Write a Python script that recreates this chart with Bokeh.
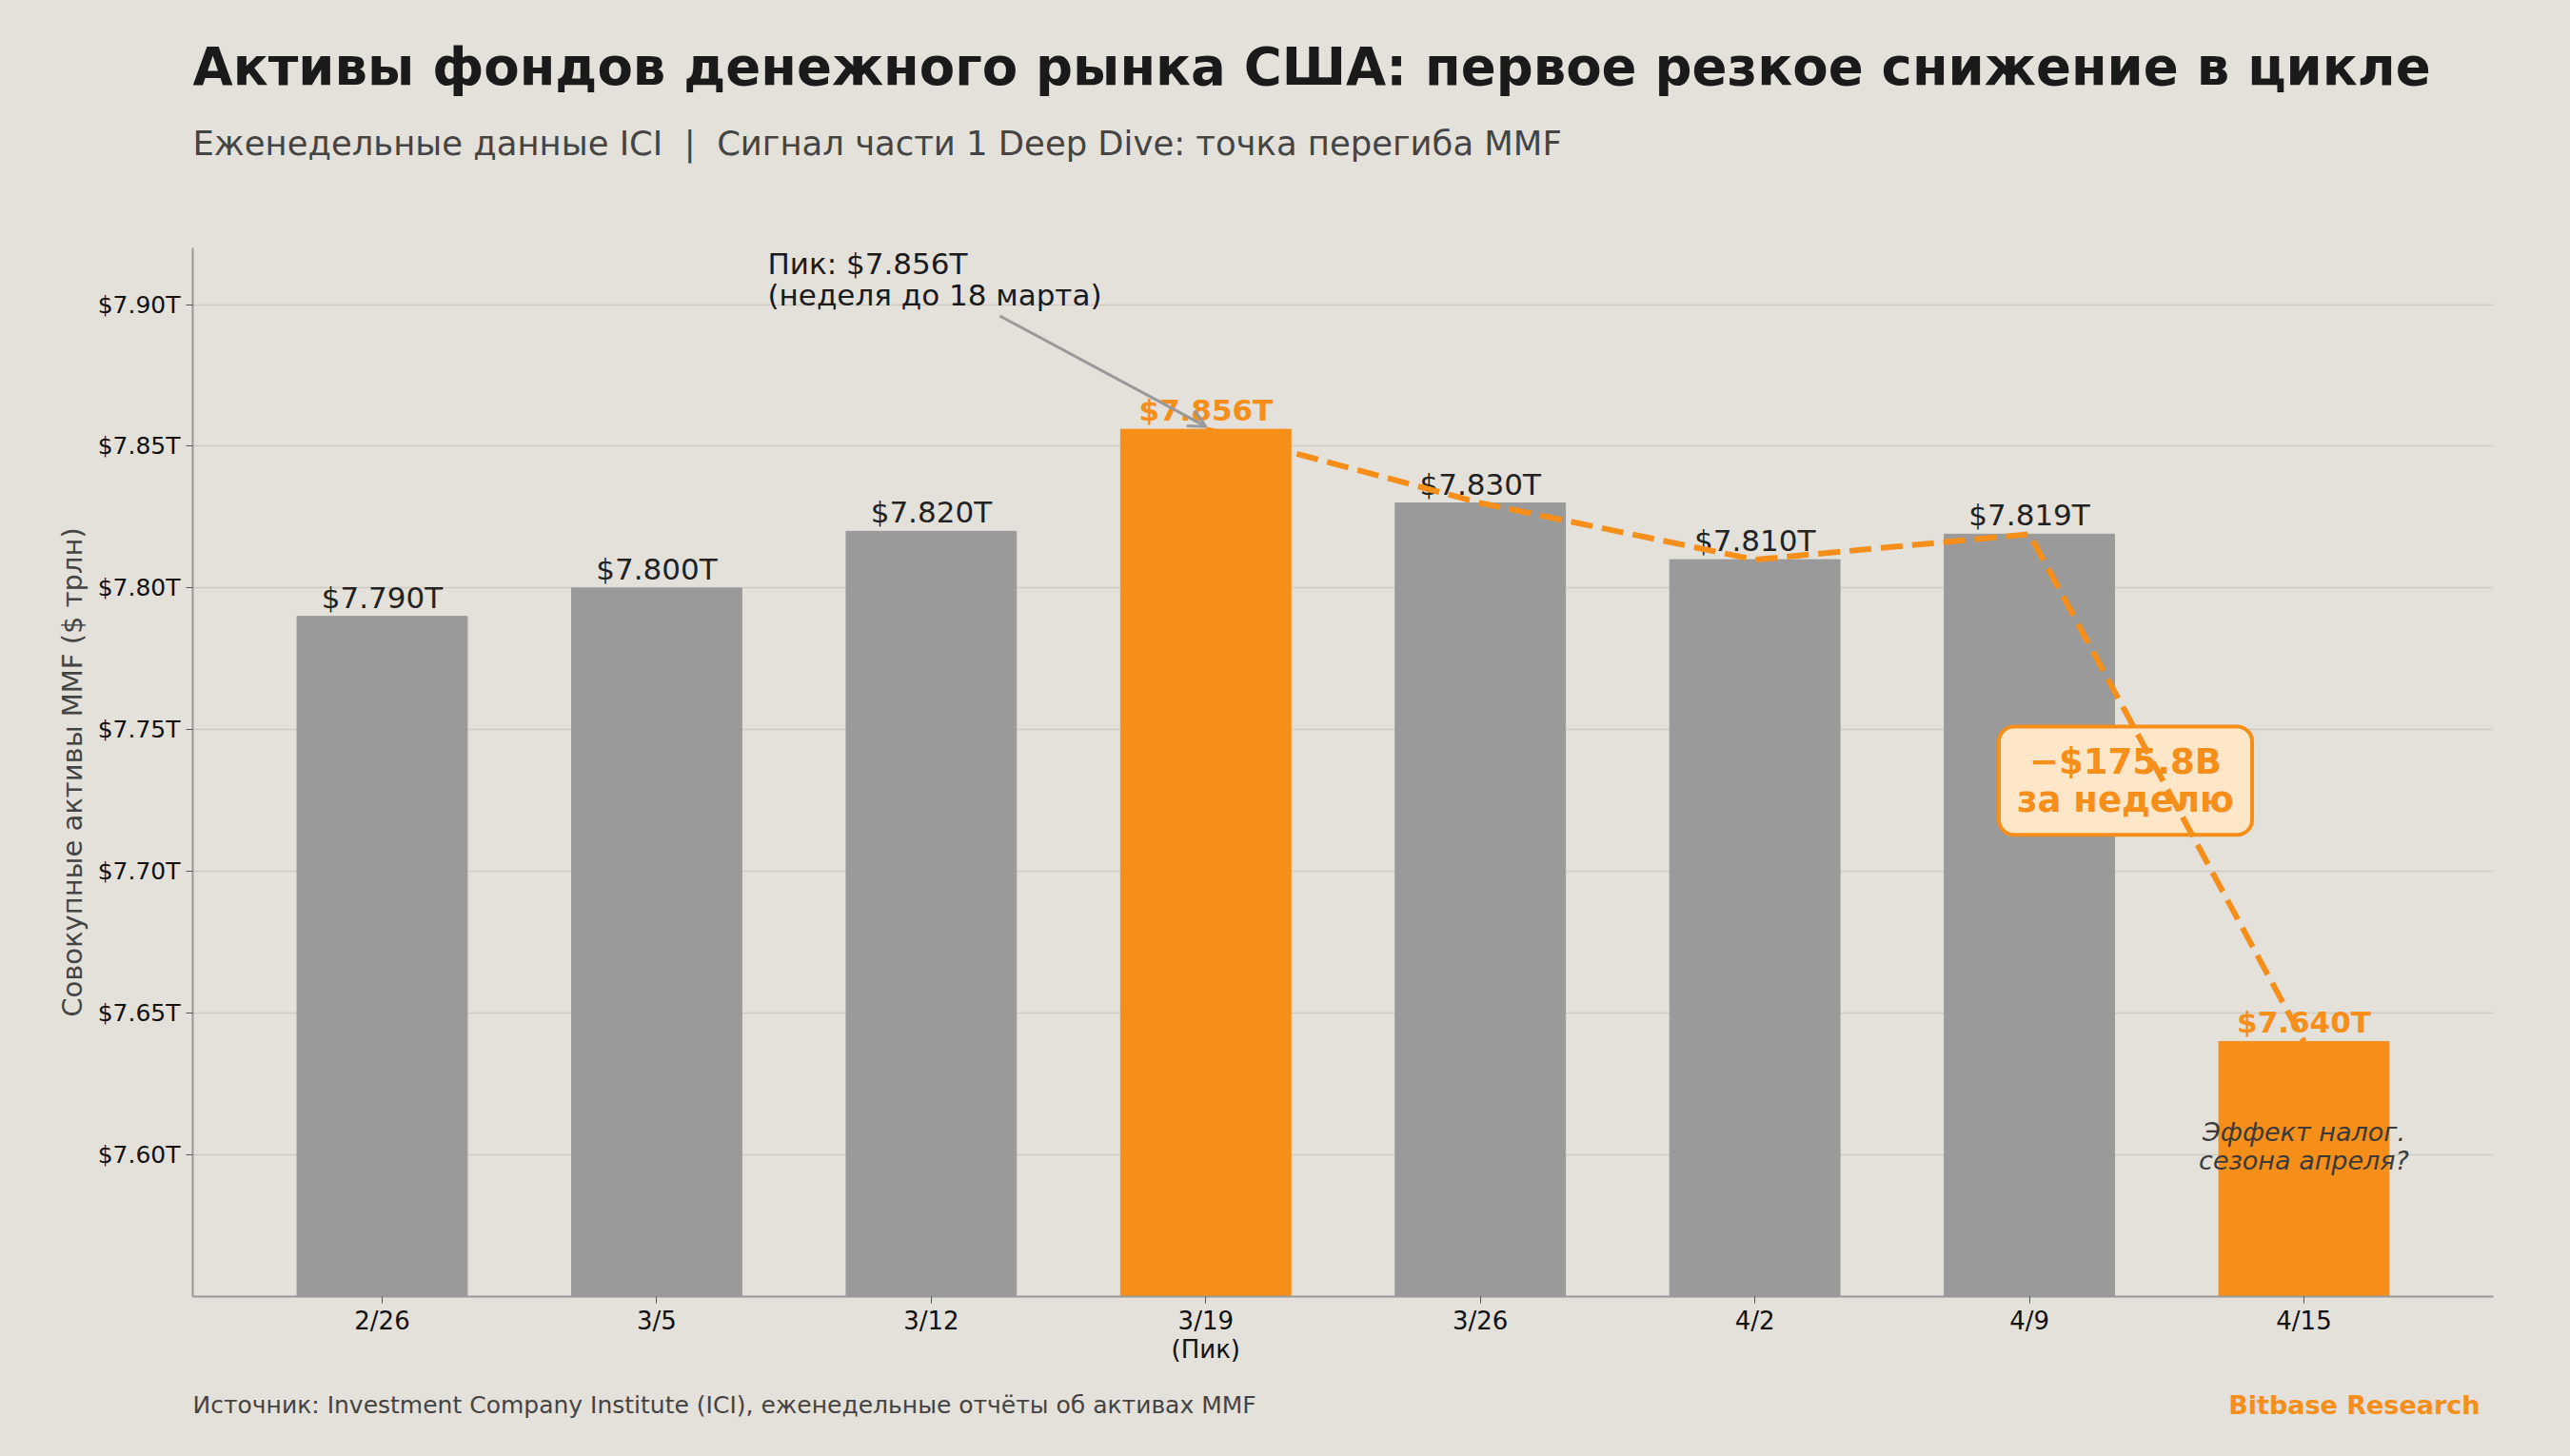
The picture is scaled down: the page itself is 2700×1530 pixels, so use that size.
from bokeh.plotting import figure
from bokeh.layouts import column
from bokeh.models import (Range1d, FixedTicker, PrintfTickFormatter, Arrow,
                          OpenHead, ColumnDataSource)
from bokeh.core.properties import value
from bokeh.embed import file_html
from bokeh.resources import INLINE

# ---- data ----
weeks = ["2/26", "3/5", "3/12", "3/19", "3/26", "4/2", "4/9", "4/15"]
assets = [7.790, 7.800, 7.820, 7.856, 7.830, 7.810, 7.819, 7.640]
highlight = [False, False, False, True, False, False, False, True]
y_ticks = [7.60, 7.65, 7.70, 7.75, 7.80, 7.85, 7.90]
trend_idx = [3, 4, 5, 6, 7]

NB = "\u00a0"
title = "Активы фондов денежного рынка США: первое резкое снижение в цикле"
subtitle = "Еженедельные данные ICI" + NB * 2 + "|" + NB * 2 + "Сигнал части 1 Deep Dive: точка перегиба MMF"
ylabel = "Совокупные активы MMF ($ трлн)"
source_txt = "Источник: Investment Company Institute (ICI), еженедельные отчёты об активах MMF"
brand = "Bitbase Research"
peak_note = "Пик: $7.856T\n(неделя до 18 марта)"
drop_note = "\u2212$175.8B\nза неделю"
tax_note = "Эффект налог.\nсезона апреля?"

BG = "#E4E0DA"
ORANGE = "#F68E1A"
GREY = "#9A9A9A"
FONT = "DejaVu Sans"

W = 2700
HEAD_H, MAIN_H, FOOT_H = 200, 1250, 80
L, R, T, B = 202, 81, 60, 88
X0, X1 = -0.69, 7.69
Y0, Y1 = 7.55, 7.92


def text_fig(h):
    # frame is aligned with the main chart's frame (L .. W-R), so x data == page pixels
    f = figure(width=W, height=h, output_backend="svg", toolbar_location=None,
               x_range=Range1d(L, W - R), y_range=Range1d(h, 0),
               min_border_left=L, min_border_right=R,
               min_border_top=0, min_border_bottom=0,
               background_fill_color=None, border_fill_color=BG)
    f.axis.visible = False
    f.grid.visible = False
    f.outline_line_color = None
    return f


# ---- header ----
head = text_fig(HEAD_H)
head.text(x=[202], y=[69], text=[title], text_font=value(FONT), text_font_size="54.5px",
          text_font_style="bold", text_color="#1A1A1A", text_baseline="middle")
head.text(x=[202], y=[150], text=[subtitle], text_font=value(FONT), text_font_size="35.4px",
          text_color="#444444", text_baseline="middle")

# ---- main chart ----
p = figure(width=W, height=MAIN_H, output_backend="svg", toolbar_location=None,
           x_range=Range1d(X0, X1), y_range=Range1d(Y0, Y1),
           min_border_left=L, min_border_right=R, min_border_top=T, min_border_bottom=B,
           background_fill_color=None, border_fill_color=BG)
p.outline_line_color = None

xs = list(range(len(weeks)))
colors = [ORANGE if h else GREY for h in highlight]
src = ColumnDataSource(dict(x=xs, top=assets, color=colors))
p.vbar(x="x", top="top", bottom=Y0, width=0.62, color="color", source=src)

lab_txt = ["${:.3f}T".format(v) for v in assets]
lab_col = [ORANGE if h else "#222222" for h in highlight]
lab_sty = ["bold" if h else "normal" for h in highlight]
lsrc = ColumnDataSource(dict(x=xs, y=assets, t=lab_txt, c=lab_col, s=lab_sty))
p.text(x="x", y="y", text="t", text_color="c", text_font_style="s",
       text_font=value(FONT), text_font_size="31px", text_align="center",
       text_baseline="bottom", y_offset=-2, source=lsrc)

p.text(x=[6.35], y=[7.732], text=[drop_note], text_font=value(FONT),
       text_font_size="37px", text_font_style="bold", text_color=ORANGE,
       text_align="center", text_baseline="middle", text_line_height=0.95,
       background_fill_color="#FDE7C8", border_line_color=ORANGE,
       border_line_width=4, border_radius=16, padding=(19, 15))

p.text(x=[7], y=[7.603], text=[tax_note], text_font=value(FONT),
       text_font_size="27px", text_font_style="italic", text_color="#3A3A3A",
       text_align="center", text_baseline="middle", text_line_height=0.96)

p.line(x=[xs[i] for i in trend_idx], y=[assets[i] for i in trend_idx],
       line_color=ORANGE, line_width=6, line_dash="23 10")

p.text(x=[1.404], y=[7.909], text=[peak_note], text_font=value(FONT),
       text_font_size="31px", text_color="#1A1A1A", text_align="left",
       text_baseline="middle", text_line_height=0.92)
p.add_layout(Arrow(x_start=2.25, y_start=7.896, x_end=3.0, y_end=7.857,
                   line_color="#999999", line_width=3,
                   end=OpenHead(size=18, line_color="#999999", line_width=3)))

p.xaxis.ticker = FixedTicker(ticks=xs)
ov = {i: w for i, w in enumerate(weeks)}
ov[3] = weeks[3] + "\n(Пик)"
p.xaxis.major_label_overrides = ov
p.yaxis.ticker = FixedTicker(ticks=y_ticks)
p.yaxis.formatter = PrintfTickFormatter(format="$%.2fT")
p.yaxis.axis_label = ylabel
for ax in (p.xaxis, p.yaxis):
    ax.axis_line_color = "#999999"
    ax.axis_line_width = 2
    ax.major_tick_line_color = "#555555"
    ax.major_tick_out = 7
    ax.major_tick_in = 0
    ax.minor_tick_line_color = None
    ax.major_label_text_font = FONT
    ax.major_label_text_color = "#111111"
    ax.major_label_standoff = 6
p.xaxis.major_label_standoff = 3
p.xaxis.major_label_text_line_height = 1.0
p.xaxis.major_label_text_font_size = "26px"
p.yaxis.major_label_text_font_size = "25px"
p.yaxis.axis_label_text_font = FONT
p.yaxis.axis_label_text_font_size = "29px"
p.yaxis.axis_label_text_font_style = "normal"
p.yaxis.axis_label_text_color = "#444444"
p.yaxis.axis_label_standoff = 7

p.xgrid.grid_line_color = None
p.ygrid.grid_line_color = "#D0CBC4"
p.ygrid.grid_line_width = 1.5
p.ygrid.ticker = FixedTicker(ticks=y_ticks)

# ---- footer ----
foot = text_fig(FOOT_H)
foot.text(x=[202], y=[26], text=[source_txt], text_font=value(FONT), text_font_size="25px",
          text_color="#444444", text_baseline="middle")
foot.text(x=[2605], y=[26], text=[brand], text_font=value(FONT), text_font_size="27px",
          text_font_style="bold", text_color=ORANGE, text_align="right",
          text_baseline="middle")

layout = column(head, p, foot, spacing=0, styles={"background-color": BG})
open("out.html", "w").write(file_html(layout, INLINE))
